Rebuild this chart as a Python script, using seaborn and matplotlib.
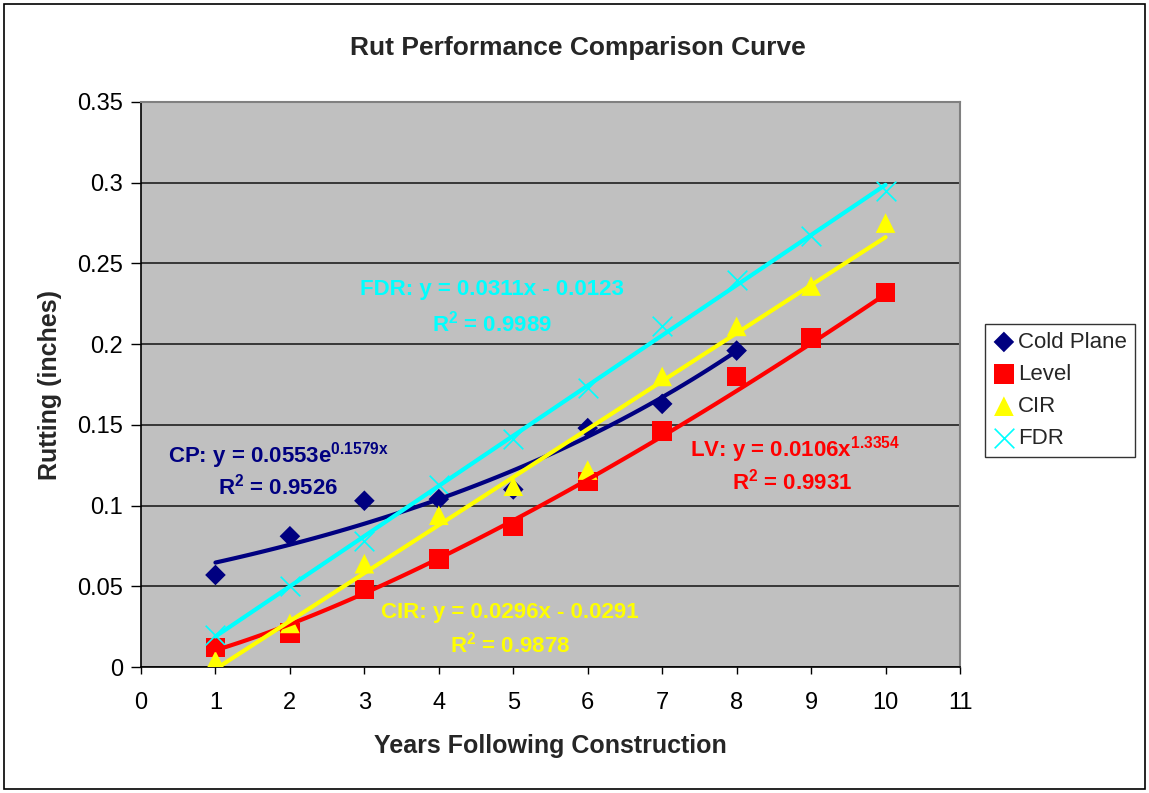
import numpy as np
import pandas as pd
import matplotlib
matplotlib.use("Agg")
import matplotlib.pyplot as plt
import seaborn as sns

# --- DATA ---
years = [1, 2, 3, 4, 5, 6, 7, 8, 9, 10]
cold_plane = [0.057, 0.081, 0.103, 0.104, 0.110, 0.148, 0.163, 0.196]
level = [0.012, 0.021, 0.048, 0.067, 0.087, 0.115, 0.146, 0.180, 0.204, 0.232]
cir = [0.004, 0.027, 0.064, 0.094, 0.112, 0.122, 0.180, 0.211, 0.236, 0.275]
fdr = [0.020, 0.050, 0.078, 0.113, 0.141, 0.173, 0.211, 0.240, 0.267, 0.295]

# trendline labels as printed on the chart
cp_eq = [r"CP: y = 0.0553e$^{\mathbf{0.1579x}}$", r"R$^{\mathbf{2}}$ = 0.9526"]
lv_eq = [r"LV: y = 0.0106x$^{\mathbf{1.3354}}$", r"R$^{\mathbf{2}}$ = 0.9931"]
cir_eq = [r"CIR: y = 0.0296x - 0.0291", r"R$^{\mathbf{2}}$ = 0.9878"]
fdr_eq = [r"FDR: y = 0.0311x - 0.0123", r"R$^{\mathbf{2}}$ = 0.9989"]

NAVY, RED, YELLOW, CYAN = "#000080", "#FF0000", "#FFFF00", "#00FFFF"

sns.set_theme(style="white")
plt.rcParams['font.family'] = ['Liberation Sans', 'DejaVu Sans']
plt.rcParams['mathtext.fontset'] = 'custom'
plt.rcParams['mathtext.rm'] = 'Liberation Sans:bold'
plt.rcParams['mathtext.bf'] = 'Liberation Sans:bold'

df = pd.concat([
    pd.DataFrame({'Year': years[:len(cold_plane)], 'Rut': cold_plane, 'Series': 'Cold Plane'}),
    pd.DataFrame({'Year': years, 'Rut': level, 'Series': 'Level'}),
    pd.DataFrame({'Year': years, 'Rut': cir, 'Series': 'CIR'}),
    pd.DataFrame({'Year': years, 'Rut': fdr, 'Series': 'FDR'}),
])

# trendlines fitted like Excel does (exp, power, linear, linear)
def trend(name, kind):
    d = df[df.Series == name]
    x = d.Year.to_numpy(float)
    y = d.Rut.to_numpy(float)
    xs = np.linspace(x.min(), x.max(), 60)
    if kind == 'exp':
        b, a = np.polyfit(x, np.log(y), 1)
        ys = np.exp(a) * np.exp(b * xs)
    elif kind == 'power':
        b, a = np.polyfit(np.log(x), np.log(y), 1)
        ys = np.exp(a) * xs ** b
    else:
        m, c = np.polyfit(x, y, 1)
        ys = m * xs + c
    return pd.DataFrame({'Year': xs, 'Rut': ys})

fig = plt.figure(figsize=(11.49, 7.93), dpi=100)
ax = fig.add_axes([141 / 1149, 126 / 793, 819 / 1149, 565 / 793])
ax.set_facecolor('#C0C0C0')

styles = {
    'Cold Plane': dict(color=NAVY, marker='D', s=110, kind='exp'),
    'Level': dict(color=RED, marker='s', s=200, kind='power'),
    'CIR': dict(color=YELLOW, marker='^', s=200, kind='lin'),
    'FDR': dict(color=CYAN, marker='x', s=200, kind='lin'),
}

for name in ['Cold Plane', 'Level', 'CIR', 'FDR']:
    st = styles[name]
    sns.scatterplot(data=df[df.Series == name], x='Year', y='Rut', ax=ax,
                    color=st['color'], marker=st['marker'], s=st['s'],
                    linewidth=1.2 if st['marker'] == 'x' else 0,
                    edgecolor=st['color'] if st['marker'] == 'x' else 'none',
                    label=name, zorder=3)
    sns.lineplot(data=trend(name, st['kind']), x='Year', y='Rut', ax=ax,
                 color=st['color'], linewidth=3, legend=False, zorder=4)

ax.set_xlim(0, 11)
ax.set_ylim(0, 0.35)
ax.set_xticks(range(0, 12))
ax.set_yticks(np.arange(0, 0.351, 0.05))
ax.set_yticklabels(['0', '0.05', '0.1', '0.15', '0.2', '0.25', '0.3', '0.35'])
ax.yaxis.grid(True, color='#202020', linewidth=1.2)
ax.set_axisbelow(True)
ax.tick_params(axis='both', direction='out', width=1, labelsize=17,
               bottom=True, left=True, colors='black')
ax.tick_params(axis='x', length=5, pad=13)
ax.tick_params(axis='y', length=7, pad=6)
for side in ['left', 'bottom']:
    ax.spines[side].set_color('black')
    ax.spines[side].set_linewidth(1.2)
for side in ['top', 'right']:
    ax.spines[side].set_color('#808080')
    ax.spines[side].set_linewidth(1.5)

ax.set_xlabel('Years Following Construction', fontsize=18, fontweight='bold')
ax.set_ylabel('Rutting (inches)', fontsize=18, fontweight='bold')
ax.xaxis.set_label_coords(0.5, (667 - 734) / 565)
ax.yaxis.set_label_coords((62 - 141) / 819, 0.5)
fig.text(0.503, 1 - 48 / 793, 'Rut Performance Comparison Curve', ha='center', va='center',
         fontsize=19, fontweight='bold')

# equation labels
lab = dict(fontsize=16, fontweight='bold', va='center')
ax.text(4.71, 0.2336, fdr_eq[0], color=CYAN, ha='center', **lab)
ax.text(4.71, 0.213, fdr_eq[1], color=CYAN, ha='center', **lab)
ax.text(0.36, 0.131, cp_eq[0], color=NAVY, ha='left', **lab)
ax.text(1.84, 0.1115, cp_eq[1], color=NAVY, ha='center', **lab)
ax.text(7.37, 0.1345, lv_eq[0], color=RED, ha='left', **lab)
ax.text(8.74, 0.1146, lv_eq[1], color=RED, ha='center', **lab)
ax.text(4.96, 0.034, cir_eq[0], color=YELLOW, ha='center', **lab)
ax.text(4.96, 0.0136, cir_eq[1], color=YELLOW, ha='center', **lab)

leg = ax.legend(loc='upper left', bbox_to_anchor=(985 / 1149, 1 - 324 / 793),
                bbox_transform=fig.transFigure, frameon=True, fancybox=False,
                fontsize=16, handletextpad=0.15, handlelength=1.0,
                borderpad=0.35, labelspacing=0.5, borderaxespad=0)
leg.get_frame().set_edgecolor('black')
leg.get_frame().set_linewidth(1.0)

# outer chart border
fig.patches.append(plt.Rectangle((4 / 1149, 4 / 793), 1141 / 1149, 785 / 793,
                                 transform=fig.transFigure, fill=False,
                                 edgecolor='black', linewidth=1.2))

fig.savefig('out.png', dpi=100, facecolor='white')
